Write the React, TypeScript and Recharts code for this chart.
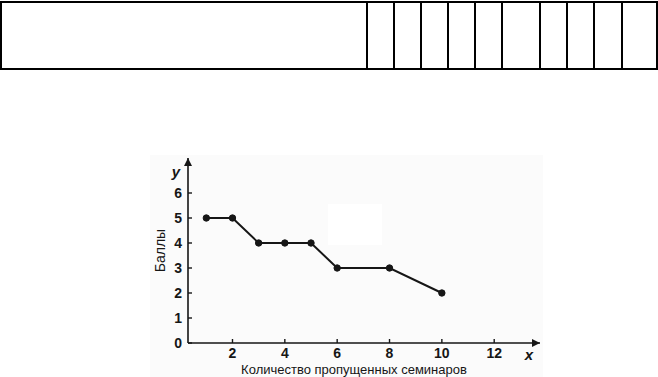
import { Line, LineChart, XAxis, YAxis } from 'recharts';

// missed seminars -> score
const seminarsMissed = [1, 2, 3, 4, 5, 6, 8, 10];
const scores = [5, 5, 4, 4, 4, 3, 3, 2];
const xTicks = [2, 4, 6, 8, 10, 12];
const yTicks = [0, 1, 2, 3, 4, 5, 6];

const xTitle = 'Количество пропущенных семинаров';
const yTitle = 'Баллы';

// vertical dividers of the empty table above the chart
const tableDividers = [365, 392, 419, 446, 473, 500, 538, 565, 592, 620];

const data = seminarsMissed.map((x, i) => ({ x, y: scores[i] }));

const ink = '#161616';
const font = '"Liberation Sans", Arial, sans-serif';

function EmptyTable() {
	return (
		<div
			style={{
				position: 'absolute',
				left: 0,
				top: 1,
				width: 658,
				height: 69,
				boxSizing: 'border-box',
				border: '2px solid #000',
			}}
		>
			{tableDividers.map((left) => (
				<div
					key={left}
					style={{
						position: 'absolute',
						left: left - 1,
						top: 0,
						width: 2,
						height: '100%',
						background: '#000',
					}}
				/>
			))}
		</div>
	);
}

export default function App() {
	return (
		<div style={{ position: 'absolute', left: 0, top: 0, width: 658, height: 377, background: '#fff' }}>
			<EmptyTable />
			{/* faint scan background behind the figure */}
			<div style={{ position: 'absolute', left: 150, top: 155, width: 393, height: 222, background: '#fbfbfb' }} />
			<div style={{ position: 'absolute', left: 328, top: 204, width: 54, height: 41, background: '#fff' }} />
			<div style={{ position: 'absolute', left: 0, top: 0 }}>
				<LineChart
					width={658}
					height={377}
					data={data}
					margin={{ top: 158, right: 118, bottom: 0, left: 133 }}
					style={{ fontFamily: font }}
				>
					<defs>
						<marker
							id="arrow"
							viewBox="0 0 10 10"
							refX={10}
							refY={5}
							markerWidth={9}
							markerHeight={8}
							markerUnits="userSpaceOnUse"
							orient="auto-start-reverse"
						>
							<path d="M0,0 L10,5 L0,10 z" fill={ink} />
						</marker>
					</defs>
					<XAxis
						type="number"
						dataKey="x"
						domain={[0.3, 13.75]}
						ticks={xTicks}
						allowDataOverflow
						height={34}
						axisLine={{ stroke: ink, strokeWidth: 1.6, markerEnd: 'url(#arrow)' }}
						tickLine={{ stroke: ink, strokeWidth: 1.4 }}
						tickSize={-4}
						tickMargin={9}
						tick={{ fontSize: 14, fill: ink, fontWeight: 'bold', fontFamily: font }}
						label={{
							value: xTitle,
							position: 'insideBottom',
							offset: 3,
							dx: -10,
							fontSize: 13,
							fill: ink,
							fontFamily: font,
						}}
					/>
					<YAxis
						type="number"
						dataKey="y"
						domain={[0, 7.4]}
						ticks={yTicks}
						allowDataOverflow
						width={55}
						axisLine={{ stroke: ink, strokeWidth: 1.6, markerStart: 'url(#arrow)' }}
						tickLine={{ stroke: ink, strokeWidth: 1.4 }}
						tickSize={-4}
						tickMargin={10}
						tick={{ fontSize: 14, fill: ink, fontWeight: 'bold', fontFamily: font }}
						label={{
							value: yTitle,
							position: 'center',
							angle: -90,
							fontSize: 14,
							fill: ink,
							fontFamily: font,
						}}
					/>
					<Line
						type="linear"
						dataKey="y"
						stroke={ink}
						strokeWidth={2}
						dot={{ r: 3.2, fill: ink, stroke: ink, strokeWidth: 1 }}
						isAnimationActive={false}
					/>
					<text x={176} y={177} fontSize={15} fontStyle="italic" fontWeight="bold" fill={ink} textAnchor="middle" fontFamily={font}>
						y
					</text>
					<text x={529} y={360} fontSize={15} fontStyle="italic" fontWeight="bold" fill={ink} textAnchor="middle" fontFamily={font}>
						x
					</text>
				</LineChart>
			</div>
		</div>
	);
}
